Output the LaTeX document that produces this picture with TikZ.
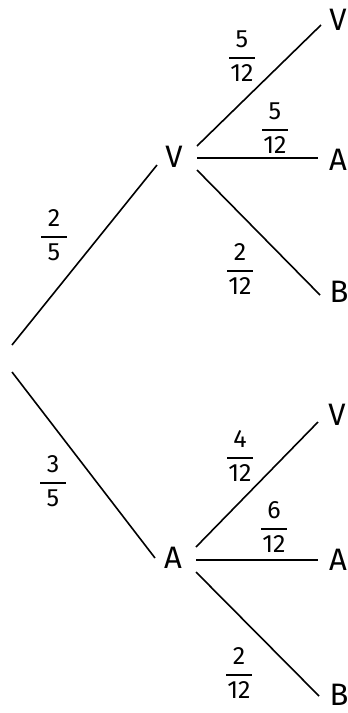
\documentclass[tikz,border=0pt]{standalone}
\usepackage{amsmath}
\usepackage{fontspec}
\setmainfont{Fira Sans}
\usetikzlibrary{calc}
\newcommand\pfrac[2]{$\displaystyle\genfrac{}{}{1.6pt}{0}{\text{\makebox[26pt]{#1}}}{\text{\makebox[26pt]{#2}}}$}
\tikzset{
  lbl/.style={inner sep=0pt, font=\fontsize{31}{33}\selectfont},
  prob/.style={inner sep=0pt, font=\fontsize{25}{28}\selectfont},
  branch/.style={line width=1.6pt}
}
\begin{document}
\begin{tikzpicture}[x=1pt,y=-1pt]
\useasboundingbox (0,0) rectangle (348,713);
% root ends
\coordinate (r1) at (12,345);
\coordinate (r2) at (12,372);
% nodes
\node[lbl] (v) at (174,157) {V};
\node[lbl] (a) at (173,558) {A};
\node[lbl] (vv) at (338,20) {V};
\node[lbl] (va) at (338,160) {A};
\node[lbl] (vb) at (339,292) {B};
\node[lbl] (av) at (337,415) {V};
\node[lbl] (aa) at (338,560) {A};
\node[lbl] (ab) at (339,695) {B};
% fractions
\node[prob] (f1) at (242,56) {\pfrac{5}{12}};
\node[prob] (f2) at (275,128) {\pfrac{5}{12}};
\node[prob] (f3) at (240,269) {\pfrac{2}{12}};
\node[prob] (f4) at (54,235) {\pfrac{2}{5}};
\node[prob] (f5) at (53,481) {\pfrac{3}{5}};
\node[prob] (f6) at (240,456) {\pfrac{4}{12}};
\node[prob] (f7) at (274,527) {\pfrac{6}{12}};
\node[prob] (f8) at (239,673) {\pfrac{2}{12}};
% branches
\draw[branch] (r1) -- ($(v.center)+(-17,8)$);
\draw[branch] (r2) -- ($(a.center)+(-18,0)$);
\draw[branch] ($(v.center)+(23,-11)$) -- ($(vv.center)+(-17,5)$);
\draw[branch] ($(v.center)+(23,1)$) -- ($(va.center)+(-20,-2)$);
\draw[branch] ($(v.center)+(23,13)$) -- ($(vb.center)+(-19,3)$);
\draw[branch] ($(a.center)+(23,-11)$) -- ($(av.center)+(-19,7)$);
\draw[branch] ($(a.center)+(23,2)$) -- ($(aa.center)+(-20,0)$);
\draw[branch] ($(a.center)+(23,14)$) -- ($(ab.center)+(-20,1)$);
\end{tikzpicture}
\end{document}
